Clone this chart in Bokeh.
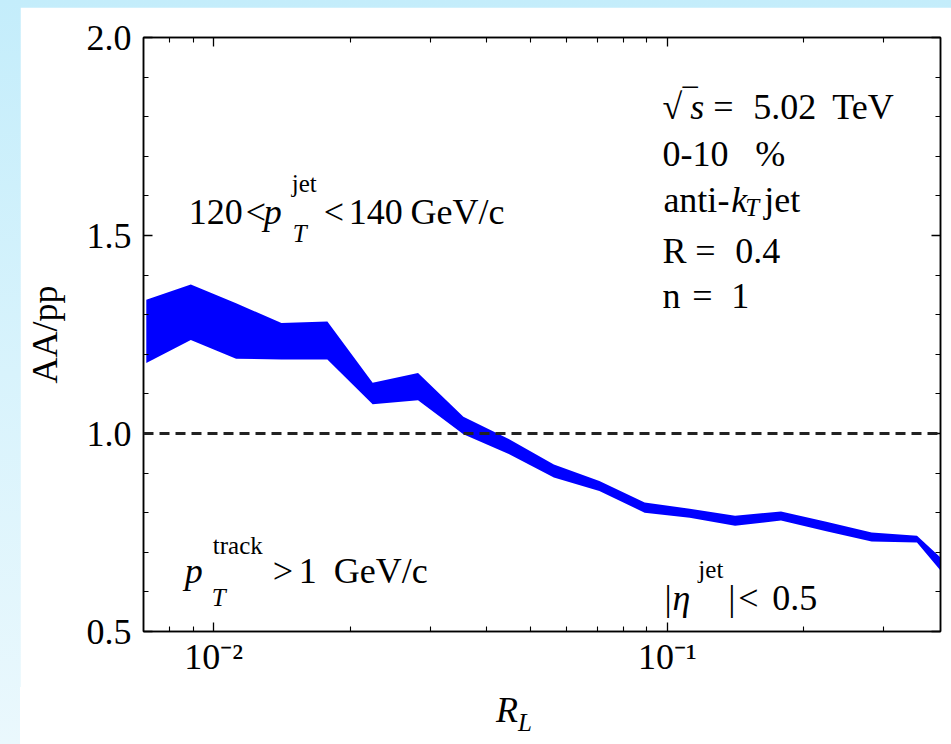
import numpy as np
from bokeh.plotting import figure
from bokeh.models import (Label, FixedTicker, LinearAxis, LogAxis, Span,
                          PrintfTickFormatter, Column, Div)
from bokeh.embed import file_html
from bokeh.resources import INLINE

# ---- data ----
r_l = [0.0071, 0.0089, 0.0112, 0.0141, 0.0178, 0.0224, 0.0282, 0.0355, 0.0447,
       0.0562, 0.0708, 0.0891, 0.112, 0.141, 0.178, 0.224, 0.282, 0.355, 0.40]
band_upper = [1.338, 1.376, 1.329, 1.279, 1.283, 1.128, 1.153, 1.042, 0.986,
              0.922, 0.880, 0.826, 0.810, 0.792, 0.803, 0.777, 0.750, 0.742, 0.687]
band_lower = [1.178, 1.236, 1.189, 1.187, 1.187, 1.074, 1.084, 0.998, 0.948,
              0.889, 0.855, 0.800, 0.787, 0.767, 0.780, 0.753, 0.727, 0.725, 0.654]
x_major = [0.01, 0.1]
x_minor = [0.008, 0.009, 0.02, 0.03, 0.04, 0.05, 0.06, 0.07, 0.08, 0.09, 0.2, 0.3]
x_major_labels = {0.01: "10\u207b\u00b2", 0.1: "10\u207b\u00b9"}
y_major = [0.5, 1.0, 1.5, 2.0]
y_minor = [0.6, 0.7, 0.8, 0.9, 1.1, 1.2, 1.3, 1.4, 1.6, 1.7, 1.8, 1.9]
ref_level = 1.0

FONT = "Liberation Serif"
MAIN = "36px"
SMALL = "25px"

PAGE_LEFT, PAGE_TOP = 20, 7
FRAME_L, FRAME_T, FRAME_R, FRAME_B = 143, 37, 940, 631
FIG_W = 951 - PAGE_LEFT
FIG_H = 680
DIV_H = 744 - PAGE_TOP - FIG_H

p = figure(width=FIG_W, height=FIG_H, x_axis_type="log",
           x_range=(0.007, 0.4), y_range=(0.5, 2.0),
           output_backend="svg", toolbar_location=None,
           min_border_left=FRAME_L - PAGE_LEFT, min_border_right=951 - FRAME_R,
           min_border_top=FRAME_T - PAGE_TOP,
           min_border_bottom=PAGE_TOP + FIG_H - FRAME_B,
           background_fill_color="white", border_fill_color="white",
           margin=(PAGE_TOP, 0, 0, PAGE_LEFT))
p.xgrid.visible = False
p.ygrid.visible = False
p.outline_line_color = "black"
p.outline_line_width = 1.5

p.varea(x=r_l, y1=band_lower, y2=band_upper, fill_color="#0000ff", fill_alpha=1.0)

p.add_layout(Span(location=ref_level, dimension="width", line_color="#222222",
                  line_dash="10 6", line_width=2.8))

xt = FixedTicker(ticks=x_major, minor_ticks=x_minor)
yt = FixedTicker(ticks=y_major, minor_ticks=y_minor)

def style_axis(ax, show_labels):
    ax.major_tick_in = 9
    ax.major_tick_out = 0
    ax.minor_tick_in = 5
    ax.minor_tick_out = 0
    ax.major_tick_line_color = "black"
    ax.minor_tick_line_color = "black"
    ax.major_tick_line_width = 1.3
    ax.minor_tick_line_width = 1.1
    ax.axis_line_color = "black"
    ax.axis_line_width = 1.5
    ax.major_label_text_font = FONT
    ax.major_label_text_color = "black"
    if show_labels:
        ax.major_label_text_font_size = "36px"
    else:
        ax.major_label_text_font_size = "2px"
        ax.major_label_text_alpha = 0.0
        ax.major_label_standoff = 0

xa = p.xaxis[0]
xa.ticker = xt
xa.major_label_overrides = x_major_labels
style_axis(xa, True)
xa.major_label_standoff = 5

ya = p.yaxis[0]
ya.ticker = yt
ya.formatter = PrintfTickFormatter(format="%.1f")
style_axis(ya, True)
ya.major_label_standoff = 12
ya.axis_label = "AA/pp"
ya.axis_label_text_font = FONT
ya.axis_label_text_font_style = "normal"
ya.axis_label_text_font_size = "36px"
ya.axis_label_text_color = "black"
ya.axis_label_standoff = 19

top_ax = LogAxis(ticker=xt)
style_axis(top_ax, False)
p.add_layout(top_ax, "above")
right_ax = LinearAxis(ticker=yt)
style_axis(right_ax, False)
p.add_layout(right_ax, "right")

# ---- text annotations, positioned by page pixels ----
def dx(px):
    return 10 ** (-2 + (px - 213) / 454.0)

def dy(py):
    return 0.5 + (FRAME_B - py) / 397.0

def put(text, px, py, size=MAIN, style="normal"):
    p.add_layout(Label(x=dx(px), y=dy(py), text=text, text_font=FONT,
                       text_font_size=size, text_font_style=style,
                       text_color="black", text_align="left",
                       text_baseline="alphabetic"))

# right block
put("\u221a", 662, 105)
put("\u203e", 683, 103, size="40px")
put("s", 690, 105, style="italic")
put("=", 713, 105)
put("5.02", 753, 105)
put("TeV", 832, 105)
put("0-10", 662, 152)
put("%", 755, 152)
put("anti-", 663, 198)
put("k", 731, 198, style="italic")
put("T", 745, 206, size=SMALL, style="italic")
put("jet", 764, 198)
put("R", 662, 250)
put("=", 695, 250)
put("0.4", 735, 250)
put("n", 662, 295)
put("=", 692, 295)
put("1", 731, 295)

# jet pT window
put("120", 188, 210)
put("<", 245, 210)
put("p", 263, 210, style="italic")
put("jet", 291, 182, size=SMALL)
put("T", 292, 232, size=SMALL, style="italic")
put("<", 323, 210)
put("140", 348, 210)
put("GeV/c", 410, 210)

# track pT
put("p", 184, 570, style="italic")
put("track", 212, 545, size=SMALL)
put("T", 211, 597, size=SMALL, style="italic")
put(">", 272, 570)
put("1", 298, 570)
put("GeV/c", 333, 570)

# eta
put("|", 664, 597)
put("\u03b7", 672, 597, style="italic")
put("jet", 698, 569, size=SMALL)
put("|", 728, 597)
put("<", 738, 597)
put("0.5", 772, 597)

# x axis title R_L below the figure
xtitle = Div(
    text=('<span style="font-family:\'Liberation Serif\';font-size:36px;'
          'font-style:italic;line-height:36px;color:black;">R'
          '<span style="font-size:25px;position:relative;top:9px;">L</span></span>'),
    width=FIG_W, height=DIV_H, margin=(0, 0, 0, PAGE_LEFT),
    styles={"background": "white", "padding-left": "476px", "padding-top": "5px",
            "box-sizing": "border-box", "overflow": "visible"})

page = Column(children=[p, xtitle], width=951, height=744, spacing=0,
              styles={"background": "linear-gradient(180deg, #c4edfb 0%, #d8f3fc 50%, #eaf8fd 100%)"})

open("out.html", "w").write(file_html(page, INLINE))
